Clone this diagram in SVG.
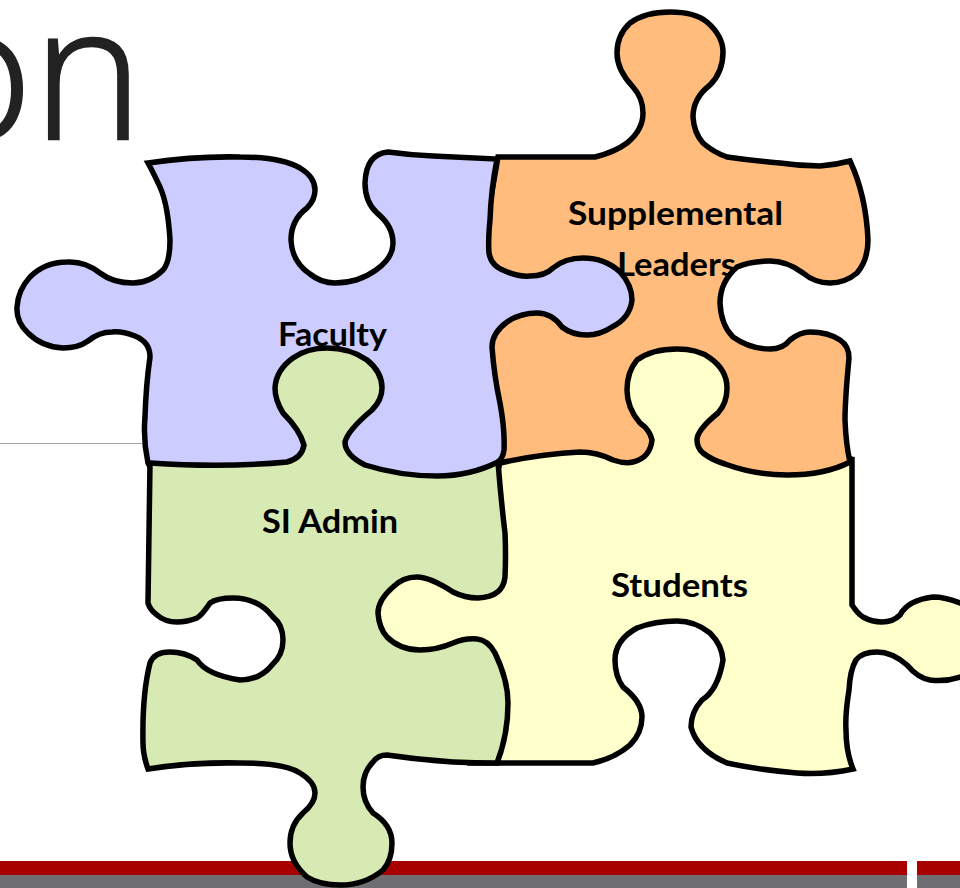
<svg xmlns="http://www.w3.org/2000/svg" width="960" height="888" viewBox="0 0 960 888">
<style>
.piece{stroke:#000;stroke-width:5.5;stroke-linejoin:miter;stroke-miterlimit:3}
.label{font-family:"Lato","Liberation Sans",sans-serif;font-weight:700;font-size:32px;fill:#000;text-anchor:start}
</style>
<defs>
<path id="orange-shape" d="M498 157L595 157Q615 152 627 143Q643 130 643 113Q643 98 633 87Q617 70 617 53Q617 35 630 23Q645 12 670 12Q695 12 707 22Q723 36 723 52Q723 72 710 85Q693 98 693 117Q694 133 703 143Q713 152 727 157Q755 161 780 163Q800 166 820 166Q835 165 850 161Q866 195 868 240Q868 260 857 273Q845 283 830 283Q815 283 803 273Q787 261 770 261Q750 261 737 267Q720 282 720 303Q721 325 733 337Q750 349 770 349Q783 349 790 340Q800 332 810 332Q828 332 840 340Q849 346 849 358Q845 400 845 420Q846 445 850 462L850 480L480 480L480 260Z"/>
</defs>
<rect width="960" height="888" fill="#fff"/>
<g id="background">
<text x="-77" y="139" font-family="'Open Sans','Liberation Sans',sans-serif" font-weight="300" font-size="187" fill="#222" stroke="#222" stroke-width="2.5">on</text>
<rect x="0" y="443" width="146" height="1" fill="#a6a6a6"/>
<rect x="0" y="861" width="907" height="14" fill="#a80000"/>
<rect x="917" y="861" width="43" height="14" fill="#a80000"/>
<rect x="0" y="875" width="907" height="13" fill="#6d6d72"/>
<rect x="917" y="875" width="43" height="13" fill="#6d6d72"/>
</g>
<g id="node-supplemental-leaders">
<use href="#orange-shape" fill="#ffbc7c"/>
<text class="label" x="568" y="225" textLength="215" lengthAdjust="spacingAndGlyphs">Supplemental</text>
<text class="label" x="617" y="276" textLength="119" lengthAdjust="spacingAndGlyphs">Leaders</text>
<use href="#orange-shape" fill="none" class="piece"/>
</g>
<g id="node-faculty">
<path class="piece" fill="#ccccff" d="M148 163Q195 156 240 157Q280 157 300 168Q315 177 315 190Q315 200 307 208Q291 220 291 240Q292 262 310 274Q321 283 335 283Q358 283 376 270Q393 258 393 243Q393 226 377 213Q365 202 365 183Q366 154 388 152Q410 155 433 156L497 159Q491 190 490 220Q488 240 489 253Q491 266 505 271Q518 277 530 276Q545 276 553 268Q565 258 583 258Q605 258 620 272Q632 285 632 300Q630 318 612 327Q600 335 587 335Q572 335 562 327Q552 313 537 313Q520 313 507 322Q492 333 492 347Q494 375 500 403Q505 430 504 450Q503 458 498 462L498 480L440 485L160 485L148 463Q143 440 145 417Q146 385 150 357Q150 342 135 336Q122 331 112 332Q99 332 88 341Q78 348 63 348Q42 347 28 333Q16 322 17 307Q18 290 30 277Q45 262 67 262Q85 261 100 273Q113 283 133 283Q150 283 163 270Q170 262 170 240Q168 205 160 187Q153 172 148 163Z"/>
<text class="label" x="278" y="346" textLength="109" lengthAdjust="spacingAndGlyphs">Faculty</text>
</g>
<g id="node-students">
<path class="piece" fill="#ffffcc" d="M500 463Q540 454 580 452Q597 452 613 460Q625 464 633 462Q650 458 652 440Q650 430 640 423Q627 408 627 390Q627 372 637 360Q652 349 677 349Q698 349 710 358Q727 370 727 388Q727 403 718 413Q697 430 697 440Q697 448 703 453Q712 460 725 464Q755 475 787 475Q825 475 850 462L852 457L852 605Q858 614 863 617Q872 622 882 622Q893 622 900 615Q908 600 933 597Q945 597 960 603L975 605L975 677L960 677Q945 682 930 680Q918 678 907 665Q892 652 877 652Q862 652 856 660Q850 670 849 690Q845 715 846 730Q846 752 853 769Q825 775 797 773Q760 770 727 763Q697 750 691 727Q691 712 702 700Q718 690 723 660Q722 645 710 633Q695 621 677 621Q655 621 637 628Q615 640 615 660Q615 676 623 687Q642 702 642 717Q642 733 630 745Q615 758 593 763L470 763L470 660L370 660L370 570L470 570Z"/>
<text class="label" x="611" y="597" textLength="137" lengthAdjust="spacingAndGlyphs">Students</text>
</g>
<g id="node-si-admin">
<path class="piece" fill="#d8eab4" d="M150 463Q225 468 287 462Q302 458 304 445Q300 430 283 413Q275 400 275 388Q276 370 293 358Q307 348 327 348Q350 348 367 360Q382 372 382 388Q382 400 372 410Q348 430 345 442Q345 455 365 465Q400 476 437 476Q470 476 498 462Q501 500 505 533Q506 555 505 577Q503 597 478 598Q465 598 453 592Q430 577 417 577Q403 577 393 587Q378 600 378 613Q379 628 387 637Q400 650 420 650Q437 650 453 643Q465 638 477 639Q488 640 495 653Q508 680 508 703Q508 735 497 763Q475 763 453 762Q420 760 387 755Q378 755 373 762Q363 772 363 787Q363 802 373 813Q392 825 392 843Q392 860 383 870Q365 885 340 885Q320 885 307 877Q290 862 290 843Q290 825 303 813Q315 803 315 793Q315 782 300 773Q285 763 240 763Q190 762 148 769Q143 755 143 743Q142 695 150 663Q154 652 170 652Q185 652 197 660Q207 675 240 680Q260 680 272 665Q283 655 283 640Q283 625 273 617Q258 598 233 598Q217 598 210 603Q202 615 197 618Q187 622 177 622Q165 622 157 615Q150 610 148 603L150 463Z"/>
<text class="label" x="262" y="533" textLength="136" lengthAdjust="spacingAndGlyphs">SI Admin</text>
</g>
<g id="connectors"/>
</svg>
